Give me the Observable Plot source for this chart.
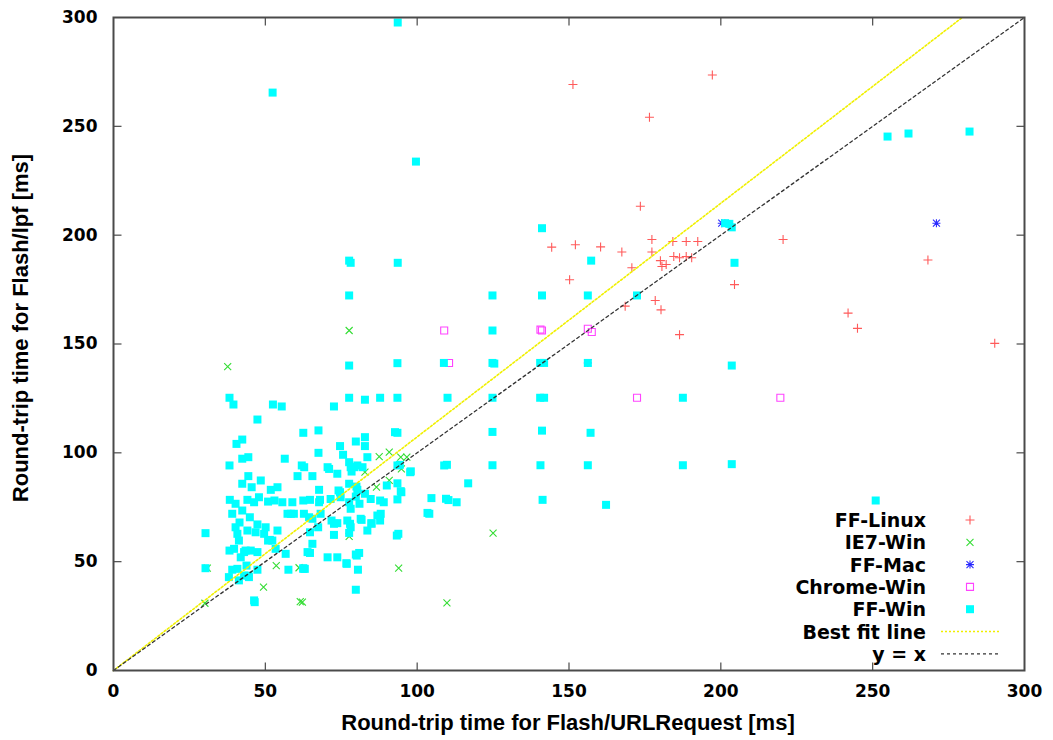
<!DOCTYPE html>
<html>
<head>
<meta charset="utf-8">
<script src="https://cdn.jsdelivr.net/npm/d3@7"></script>
<script src="https://cdn.jsdelivr.net/npm/@observablehq/plot@0.6"></script>
<style>
  html, body { margin: 0; padding: 0; background: #fff; }
  #wrap { position: relative; width: 1053px; height: 740px; }
  #wrap svg.overlay { position: absolute; left: 0; top: 0; pointer-events: none; }
</style>
</head>
<body>
<div id="wrap"></div>
<script>
// ---- data ----
const xTicks = [0, 50, 100, 150, 200, 250, 300];
const yTicks = [0, 50, 100, 150, 200, 250, 300];
const seriesNames = ["FF-Linux", "IE7-Win", "FF-Mac", "Chrome-Win", "FF-Win", "Best fit line", "y = x"];
const xLabel = "Round-trip time for Flash/URLRequest [ms]";
const yLabel = "Round-trip time for Flash/lpf [ms]";

const ffLinux = [
  [151.3,269.2],[197.2,273.6],[176.5,254.2],[173.5,213.3],[177.3,198],[167.4,192.3],[177.3,192.3],
  [184.2,197.1],[188.6,197.1],[192.4,197.1],[170.7,185],[180.1,188.3],[180.6,185.6],[182,186.5],
  [184.5,190.2],[186.4,189.6],[188.6,190.2],[190.4,189.6],[160.4,194.6],[144.3,194.5],[152.1,195.6],
  [220.5,198],[204.5,177.3],[150.2,179.5],[168.5,167.4],[178.4,170],[180.3,165.7],[186.4,154.3],
  [268.2,188.6],[241.9,164.2],[245,157.2],[290.2,150.3]
];
const ie7Win = [
  [37.6,139.6],[77.6,156.2],[87.5,98.3],[90.8,100.3],[94.6,98],[96.6,98],[82.8,91.1],[86.6,84.2],
  [90.8,87.3],[94.8,92.6],[77.6,61.6],[30.9,47],[53.6,48.2],[61.1,47.2],[93.9,47],[49.4,38.3],
  [62.2,31.4],[61.5,31.6],[30.1,30.9],[125,63.1],[109.8,31.1]
];
const ffMac = [[200.3,205.5],[271,205.5],[156.2,141.3]];
const chromeWin = [
  [108.9,156.2],[141.1,156.2],[140.6,156.6],[156.2,157],[157.5,155.5],[110.5,141.3],[172.4,125.3],[219.6,125.3]
];
const ffWin = [
  [93.6,297.7],[52.4,265.5],[99.6,233.8],[254.9,245.3],[261.8,246.7],[281.9,247.6],
  [201.4,205.5],[202.8,205.2],[203.6,203.6],[204.5,187.3],[172.4,172.3],[203.6,140.1],[203.6,94.8],[251,78.1],[162.2,76.1],
  [187.5,125.3],[187.5,94.3],
  [157.3,188.3],[156.2,172.3],[156.2,141.3],[157.1,109.2],[156.2,94.3],
  [141.1,203.2],[141.1,172.3],[140.5,141.3],[141.8,141.3],[140.5,125.3],[141.8,125.3],[141.1,110.2],[140.6,94.3],[141.3,78.4],
  [124.8,172.3],[124.8,156.2],[124.8,141.3],[125.4,141.0],[124.8,125.3],[124.8,109.6],[124.8,94.3],
  [108.8,141.3],[110,125.3],[108.9,94.2],[109.8,94.5],[116.8,86],[104.7,79.2],[109.5,78.9],[110.3,78.3],[113,77.3],[104,72],[103.4,72.4],[97.9,91.5],[97.7,91.1],[94.6,82.4],
  [93.6,187.3],[93.5,141.2],[93.5,125.3],[93.5,109.2],[92.7,109.5],[93.5,94.2],[94.3,94.5],[93.5,78.6],[93.3,62],[93.8,62.8],[94.8,81.9],[93.5,86],[90,85],
  [77.6,188.3],[78.1,187.3],[77.6,172.3],[77.6,140.1],[77.6,125.3],[82.8,124.4],[87.8,125.3],[72.6,121.3],
  [52.5,122.2],[55.4,121.3],[38.2,125.3],[39.5,122.2],[47.4,115.3],[62.5,109.2],[67.5,110.3],[79.8,105.2],[82.8,107.2],[82.8,103.1],
  [74.6,103.1],[42.4,106.1],[40.5,104.1],[67.5,100],[75.6,99.1],[83.6,98],[44.4,98],[42.4,97.3],[56.4,97.3],[38.2,94.2],
  [77.6,95.7],[78.1,93.4],[80.3,94.2],[82,93.4],[70.5,93.4],[71,92.6],[73.7,90.4],[62,94.2],[62.8,93.4],[44.4,89.3],
  [60.6,89.3],[65.5,89.3],[78.4,91.4],[79.2,93.4],
  [48.5,87.3],[42.4,85.8],[45.5,84.2],[51.8,83],[54,84.2],[67.7,83],[74.1,82.7],[77.6,85.8],[80,84.5],[82.8,81.2],
  [80.3,83],[74.6,81.9],[87.8,78.1],[89,77.3],[38.3,78.4],[40.2,76.6],[44.1,78.4],[46.3,77.3],[47.9,79.6],[50.9,77.6],
  [53,78.1],[55.6,77.3],[58.9,77.3],[62.5,78.1],[64.7,78.4],[68,78.4],[71.5,78.8],[74.8,79.6],[77.6,77.3],[79.8,79.9],
  [81,76.6],[84.7,78.8],[78.1,74.3],[67.7,77.3],
  [39.1,72],[42.4,73.5],[44.9,70.4],[41.5,68],[47.4,67.1],[50.1,65.8],[57.3,72],[59.4,72],[62.7,72],[58.4,72],
  [65.5,69.7],[64.4,70.4],[68.2,72],[71.8,68.9],[73.7,67.7],[77,68.9],[81.4,69.7],[81.7,69.2],[86.9,71.2],[87.8,68.9],
  [88,72],[72.6,67.4],[77.9,67.4],[84.9,67.7],[85,67.4],
  [40.2,65.8],[44.1,64.3],[46.8,63.5],[51.5,60],[54,64.3],[40.8,62.8],[41.3,59.7],[49.6,62.8],[64.7,63.5],[67.4,65.8],
  [78.1,65.8],[83.6,64.3],[72.6,62.3],[77.6,63.2],[50.9,59.7],[52.3,59.7],
  [38.2,55.1],[43.5,55.1],[41.9,52],[45.2,55.1],[43,54.4],[47.4,54.4],[39.7,55.9],[53.4,55.9],[56.7,53.6],[64.7,54],
  [63.9,54.4],[65.5,58.2],[70.5,52],[73.7,52],[80.1,52.8],[79.8,53.3],[80.9,54],[76.8,49],[76.7,49.3],[80.5,46.3],
  [79.8,37.1],[57.6,46.3],[62.5,46.7],[63,46.7],[47.4,46.3],[43.8,48.2],[39.1,46.3],[40.8,46.7],[38,42.9],[44.4,43.6],
  [43,43.6],[41.3,41.4],[44.6,42.9],[46.5,31.4],[46.3,32.2],[30.3,47],[30.3,63.1],[62.5,47]
];
const bestFitX = [0, 279.5];
const bestFitY = [0, 300];
const diagX = [0, 300];
const diagY = [0, 300];

// ---- styles ----
const colors = {
  "FF-Linux": "#ff5a5a", "IE7-Win": "#33dd33", "FF-Mac": "#2a2aff",
  "Chrome-Win": "#ff44ff", "FF-Win": "#00ffff", "Best fit line": "#f0f000", "y = x": "#333"
};
const border = "#4a4a4a";
const sym = fn => ({ draw(c) { fn(c); } });
const plusSym  = sym(c => { c.moveTo(-4.5,0); c.lineTo(4.5,0); c.moveTo(0,-4.5); c.lineTo(0,4.5); });
const timesSym = sym(c => { c.moveTo(-3.5,-3.5); c.lineTo(3.5,3.5); c.moveTo(-3.5,3.5); c.lineTo(3.5,-3.5); });
const starSym  = sym(c => { c.moveTo(-4,0); c.lineTo(4,0); c.moveTo(0,-4); c.lineTo(0,4);
                            c.moveTo(-3.5,-3.5); c.lineTo(3.5,3.5); c.moveTo(-3.5,3.5); c.lineTo(3.5,-3.5); });
const boxSym   = sym(c => { c.rect(-3.5,-3.5,7,7); });
const fboxSym  = sym(c => { c.rect(-4,-4,8,8); });
const tickB = sym(c => { c.moveTo(0,0); c.lineTo(0,-8); });
const tickT = sym(c => { c.moveTo(0,0); c.lineTo(0,8); });
const tickL = sym(c => { c.moveTo(0,0); c.lineTo(8,0); });
const tickR = sym(c => { c.moveTo(0,0); c.lineTo(-8,0); });

const pts = (arr, symbol, color, strokeOnly) => Plot.dot(arr, {
  x: d => d[0], y: d => d[1], symbol,
  fill: strokeOnly ? "none" : color, stroke: strokeOnly ? color : "none", strokeWidth: 1.1
});
const innerTicks = xTicks.slice(1, -1);
const innerYTicks = yTicks.slice(1, -1);
const tickOpts = {stroke: border, fill: "none", strokeWidth: 1.2};

const chart = Plot.plot({
  width: 1053, height: 740,
  marginLeft: 113, marginRight: 29, marginTop: 17, marginBottom: 70,
  style: {background: "#fff", fontFamily: "'DejaVu Sans'", fontWeight: "bold", fontSize: "17px", color: "#000"},
  x: {domain: [0, 300]},
  y: {domain: [0, 300]},
  marks: [
    Plot.axisX(xTicks, {tickSize: 0, tickPadding: 14, label: null, fontSize: 17, fontWeight: "bold"}),
    Plot.axisY(yTicks, {tickSize: 0, tickPadding: 16, label: null, fontSize: 17, fontWeight: "bold"}),
    Plot.dot(innerTicks, {x: d => d, frameAnchor: "bottom", symbol: tickB, ...tickOpts}),
    Plot.dot(innerTicks, {x: d => d, frameAnchor: "top", symbol: tickT, ...tickOpts}),
    Plot.dot(innerYTicks, {y: d => d, frameAnchor: "left", symbol: tickL, ...tickOpts}),
    Plot.dot(innerYTicks, {y: d => d, frameAnchor: "right", symbol: tickR, ...tickOpts}),
    pts(ffLinux, plusSym, colors["FF-Linux"], true),
    pts(ie7Win, timesSym, colors["IE7-Win"], true),
    pts(ffMac, starSym, colors["FF-Mac"], true),
    pts(chromeWin, boxSym, colors["Chrome-Win"], true),
    pts(ffWin, fboxSym, colors["FF-Win"], false),
    Plot.line(bestFitX.map((x, i) => [x, bestFitY[i]]), {x: d => d[0], y: d => d[1],
      stroke: colors["Best fit line"], strokeWidth: 1.6, strokeDasharray: "2,2"}),
    Plot.line(diagX.map((x, i) => [x, diagY[i]]), {x: d => d[0], y: d => d[1],
      stroke: colors["y = x"], strokeWidth: 1.3, strokeDasharray: "3,3"}),
    Plot.frame({stroke: border, strokeWidth: 2})
  ]
});

const wrap = document.getElementById("wrap");
wrap.appendChild(chart);

// ---- overlay: axis titles and legend (gnuplot style, inside plot) ----
const ov = d3.select(wrap).append("svg").attr("class", "overlay")
  .attr("width", 1053).attr("height", 740);

ov.append("text").attr("x", 568).attr("y", 722)
  .attr("text-anchor", "middle").attr("dominant-baseline", "central")
  .style("font", "bold 22px 'Liberation Sans'").text(xLabel);
ov.append("text").attr("transform", "translate(20,328) rotate(-90)")
  .attr("text-anchor", "middle").attr("dominant-baseline", "central")
  .style("font", "bold 22px 'Liberation Sans'").text(yLabel);

const symFor = {"FF-Linux": plusSym, "IE7-Win": timesSym, "FF-Mac": starSym, "Chrome-Win": boxSym, "FF-Win": fboxSym};
seriesNames.forEach((name, i) => {
  const y = 520 + i * 22.3;
  ov.append("text").attr("x", 926).attr("y", y)
    .attr("text-anchor", "end").attr("dominant-baseline", "central")
    .style("font", "bold 19px 'DejaVu Sans'").text(name);
  if (symFor[name]) {
    const filled = name === "FF-Win";
    ov.append("path").attr("transform", `translate(970,${y})`)
      .attr("d", d3.symbol(symFor[name])())
      .attr("fill", filled ? colors[name] : "none")
      .attr("stroke", filled ? "none" : colors[name]).attr("stroke-width", 1.1);
  } else {
    ov.append("line").attr("x1", 941).attr("x2", 1000).attr("y1", y).attr("y2", y)
      .attr("stroke", colors[name])
      .attr("stroke-width", name === "y = x" ? 1.3 : 1.6)
      .attr("stroke-dasharray", name === "y = x" ? "3,3" : "2,2");
  }
});
</script>
</body>
</html>
